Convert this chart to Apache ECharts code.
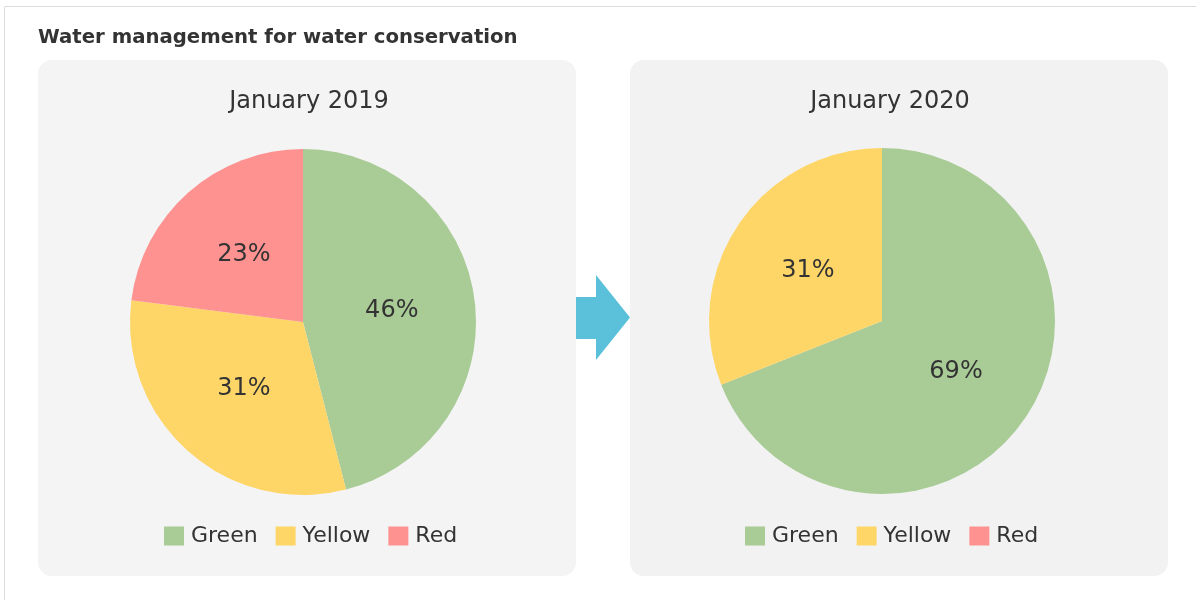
<!DOCTYPE html>
<html><head><meta charset="utf-8">
<script src="https://cdn.jsdelivr.net/npm/echarts@6/dist/echarts.min.js"></script>
<style>html,body{margin:0;padding:0;background:#fff}#c{width:1198px;height:600px}</style>
</head><body><div id="c"></div>
<script>
const categories = ['Green', 'Yellow', 'Red'];
const values2019 = [46, 31, 23];
const values2020 = [69, 31, 0];
const panelTitles = ['January 2019', 'January 2020'];
const mainTitle = 'Water management for water conservation';
const colors = ['#a9cb96', '#fed668', '#fe9290'];
const FONT = '"DejaVu Sans", Verdana, sans-serif';

function mk(vals) { return categories.map((n, i) => ({ name: n, value: vals[i] })); }

const chart = echarts.init(document.getElementById('c'), null, { renderer: 'canvas' });
const labelCfg = {
  show: true, position: 'inside', color: '#333', fontSize: 24, fontFamily: FONT,
  formatter: p => p.value === 0 ? '' : p.percent + '%'
};
const legendBase = { data: categories, top: 520, itemWidth: 20, itemHeight: 19, itemGap: 18, icon: 'rect',
  textStyle: { fontFamily: FONT, fontSize: 22, color: '#333', padding: [0, 0, 0, 2] } };
chart.setOption({
  animation: false,
  color: colors,
  textStyle: { fontFamily: FONT },
  graphic: [
    { type: 'line', shape: { x1: 4.5, y1: 6.5, x2: 1196, y2: 6.5 }, style: { stroke: '#dcdcdc', lineWidth: 1 }, silent: true },
    { type: 'line', shape: { x1: 4.5, y1: 6.5, x2: 4.5, y2: 600 }, style: { stroke: '#dcdcdc', lineWidth: 1 }, silent: true },
    { type: 'rect', shape: { x: 38, y: 60, width: 538, height: 516, r: 14 }, style: { fill: '#f4f4f4' }, z: -10, silent: true },
    { type: 'rect', shape: { x: 630, y: 60, width: 538, height: 516, r: 14 }, style: { fill: '#f2f2f2' }, z: -10, silent: true },
    { type: 'polygon', shape: { points: [[576, 297], [596, 297], [596, 275], [630, 317.5], [596, 360], [596, 339], [576, 339]] }, style: { fill: '#5bc0da' }, silent: true }
  ],
  title: [
    { text: mainTitle, left: 33, top: 23, textStyle: { fontFamily: FONT, fontSize: 19.7, fontWeight: 'bold', color: '#333' } },
    { text: panelTitles[0], left: 304, top: 85, textAlign: 'center', textStyle: { fontFamily: FONT, fontSize: 24, fontWeight: 'normal', color: '#333' } },
    { text: panelTitles[1], left: 885, top: 85, textAlign: 'center', textStyle: { fontFamily: FONT, fontSize: 24, fontWeight: 'normal', color: '#333' } }
  ],
  legend: [
    Object.assign({ left: 159 }, legendBase),
    Object.assign({ left: 740 }, legendBase)
  ],
  series: [
    { type: 'pie', center: [303, 322], radius: 173, startAngle: 90, clockwise: true,
      data: mk(values2019), label: labelCfg, labelLine: { show: false }, emphasis: { scale: false } },
    { type: 'pie', center: [882, 321], radius: 173, startAngle: 90, clockwise: true,
      data: mk(values2020), label: labelCfg, labelLine: { show: false }, emphasis: { scale: false } }
  ]
});
</script></body></html>
